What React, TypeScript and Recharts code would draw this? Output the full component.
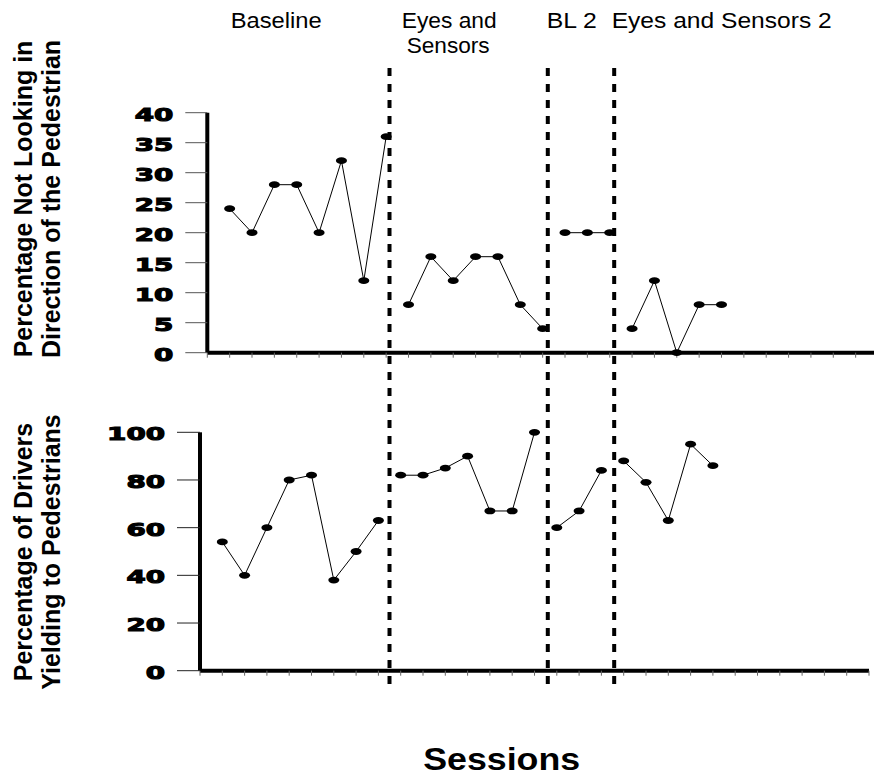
import React from "react"
import { Line, LineChart, ReferenceLine, XAxis, YAxis } from "recharts"

// sessions for each phase
const baselineSessions = [1, 2, 3, 4, 5, 6, 7, 8]
const eyesSessions = [9, 10, 11, 12, 13, 14, 15]
const bl2Sessions = [16, 17, 18]
const eyes2Sessions = [19, 20, 21, 22, 23]

// % not looking in direction of the pedestrian
const lookingBaseline = [24, 20, 28, 28, 20, 32, 12, 36]
const lookingEyes = [8, 16, 12, 16, 16, 8, 4]
const lookingBl2 = [20, 20, 20]
const lookingEyes2 = [4, 12, 0, 8, 8]

// % of drivers yielding
const yieldingBaseline = [54, 40, 60, 80, 82, 38, 50, 63]
const yieldingEyes = [82, 82, 85, 90, 67, 67, 100]
const yieldingBl2 = [60, 67, 84]
const yieldingEyes2 = [88, 79, 63, 95, 86]

const sessionTicks = [
  0, 1, 2, 3, 4, 5, 6, 7, 8, 9, 10, 11, 12, 13, 14, 15, 16, 17, 18, 19, 20,
  21, 22, 23, 24, 25, 26, 27, 28, 29, 30,
]
const lookingTicks = [0, 5, 10, 15, 20, 25, 30, 35, 40]
const yieldingTicks = [0, 20, 40, 60, 80, 100]

// phase change lines sit between sessions (x in session units of the top panel)
const phaseChanges = [8.15, 15.23, 18.2]
const phaseTitles = ["Baseline", "Eyes and", "Sensors", "BL 2", "Eyes and Sensors 2"]
const lookingTitle = ["Percentage Not Looking in", "Direction of the Pedestrian"]
const yieldingTitle = ["Percentage of Drivers", "Yielding to Pedestrians"]
const xTitle = "Sessions"

const phases = [
  { key: "baseline", sessions: baselineSessions, looking: lookingBaseline, yielding: yieldingBaseline },
  { key: "eyes", sessions: eyesSessions, looking: lookingEyes, yielding: yieldingEyes },
  { key: "bl2", sessions: bl2Sessions, looking: lookingBl2, yielding: yieldingBl2 },
  { key: "eyes2", sessions: eyes2Sessions, looking: lookingEyes2, yielding: yieldingEyes2 },
]

const lookingRows = phases.flatMap((p) =>
  p.sessions.map((s, i) => ({ session: s, [p.key]: p.looking[i] }))
)
const yieldingRows = phases.flatMap((p) =>
  p.sessions.map((s, i) => ({ session: s, [p.key]: p.yielding[i] }))
)

const FONT = "'Liberation Sans', Arial, sans-serif"

function Pill(props: any) {
  const { cx, cy, value } = props
  if (cx == null || cy == null || value == null) return null
  return <ellipse cx={cx} cy={cy} rx={5.5} ry={3.4} fill="#000" />
}

function NoLabel() {
  return <g />
}

function BoldTick(props: any) {
  const { x, y, payload } = props
  const label = String(payload.value)
  return (
    <text
      x={x}
      y={y + 8}
      textAnchor="end"
      fontFamily="'DejaVu Sans', sans-serif"
      fontWeight="bold"
      fontSize={18}
      textLength={19.3 * label.length}
      lengthAdjust="spacingAndGlyphs"
      fill="#000"
      stroke="#000"
      strokeWidth={1.1}
    >
      {label}
    </text>
  )
}

function phaseLines(valueKey: "looking" | "yielding") {
  return phases.map((p) => (
    <Line
      key={p.key + valueKey}
      dataKey={p.key}
      stroke="#000"
      strokeWidth={1}
      dot={<Pill />}
      activeDot={false}
      connectNulls={false}
      isAnimationActive={false}
    />
  ))
}

const layer: React.CSSProperties = { position: "absolute", left: 0, top: 0 }

export default function App() {
  return (
    <div
      style={{
        position: "absolute",
        left: 0,
        top: 0,
        width: 874,
        height: 781,
        overflow: "hidden",
        background: "#fff",
      }}
    >
      {/* top panel, also carries the phase change lines that run through both panels */}
      <div style={layer}>
        <LineChart
          width={878}
          height={781}
          data={lookingRows}
          margin={{ top: 112.7, right: 0, bottom: 418.3, left: 0 }}
        >
          <XAxis
            type="number"
            dataKey="session"
            domain={[0, 30]}
            ticks={sessionTicks}
            interval={0}
            tick={<NoLabel />}
            tickSize={5}
            tickLine={{ stroke: "#666" }}
            axisLine={{ stroke: "#000", strokeWidth: 4 }}
            height={10}
          />
          <YAxis
            domain={[0, 40]}
            ticks={lookingTicks}
            interval={0}
            width={207.3}
            tickSize={22}
            tickMargin={12}
            tick={<BoldTick />}
            tickLine={{ stroke: "#555" }}
            axisLine={{ stroke: "#000", strokeWidth: 4 }}
          />
          {phaseChanges.map((x) => (
            <ReferenceLine
              key={x}
              segment={[
                { x, y: 47.45 },
                { x, y: -56.2 },
              ]}
              ifOverflow="visible"
              stroke="#000"
              strokeWidth={4}
              strokeDasharray="8 8"
            />
          ))}
          {phaseLines("looking")}
        </LineChart>
      </div>

      {/* bottom panel */}
      <div style={layer}>
        <LineChart
          width={874}
          height={781}
          data={yieldingRows}
          margin={{ top: 432.3, right: 5, bottom: 100.3, left: 0 }}
        >
          <XAxis
            type="number"
            dataKey="session"
            domain={[0, 30]}
            ticks={sessionTicks}
            interval={0}
            tick={<NoLabel />}
            tickSize={5}
            tickLine={{ stroke: "#666" }}
            axisLine={{ stroke: "#000", strokeWidth: 4 }}
            height={10}
          />
          <YAxis
            domain={[0, 100]}
            ticks={yieldingTicks}
            interval={0}
            width={200}
            tickSize={23}
            tickMargin={12}
            tick={<BoldTick />}
            tickLine={{ stroke: "#222" }}
            axisLine={{ stroke: "#000", strokeWidth: 4 }}
          />
          {phaseLines("yielding")}
        </LineChart>
      </div>

      {/* titles */}
      <svg width={874} height={781} style={layer}>
        <g fontFamily={FONT} fill="#000">
          <text x={230.7} y={28.3} fontSize={22} textLength={91} lengthAdjust="spacingAndGlyphs">
            {phaseTitles[0]}
          </text>
          <text x={401.7} y={28.3} fontSize={22} textLength={95} lengthAdjust="spacingAndGlyphs">
            {phaseTitles[1]}
          </text>
          <text x={406.7} y={53.3} fontSize={22} textLength={83} lengthAdjust="spacingAndGlyphs">
            {phaseTitles[2]}
          </text>
          <text x={546.7} y={28.3} fontSize={22} textLength={50} lengthAdjust="spacingAndGlyphs">
            {phaseTitles[3]}
          </text>
          <text x={611.7} y={28.3} fontSize={22} textLength={220} lengthAdjust="spacingAndGlyphs">
            {phaseTitles[4]}
          </text>

          <g fontWeight="bold" fontSize={25} textAnchor="middle">
            <text transform="translate(32,199) rotate(-90)">{lookingTitle[0]}</text>
            <text transform="translate(60,199) rotate(-90)">{lookingTitle[1]}</text>
            <text transform="translate(32,552) rotate(-90)">{yieldingTitle[0]}</text>
            <text transform="translate(60,552) rotate(-90)">{yieldingTitle[1]}</text>
          </g>

          <text
            x={501.7}
            y={770}
            fontSize={31}
            fontWeight="bold"
            textAnchor="middle"
            textLength={157}
            lengthAdjust="spacingAndGlyphs"
          >
            {xTitle}
          </text>
        </g>
      </svg>
    </div>
  )
}
